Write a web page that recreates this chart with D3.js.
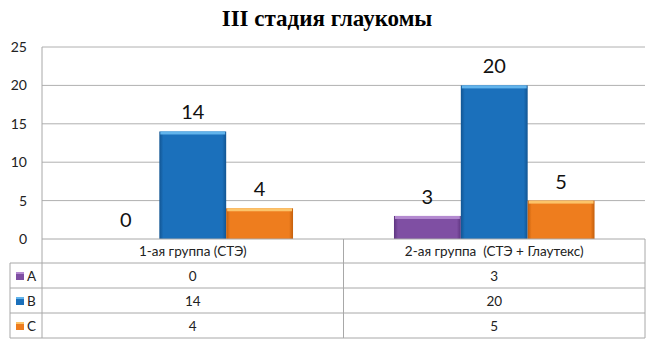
<!DOCTYPE html>
<html>
<head>
<meta charset="utf-8">
<script src="https://cdn.jsdelivr.net/npm/d3@7"></script>
<style>
  body { margin: 0; background: #fff; }
  text { font-family: Lato, "Open Sans", sans-serif; white-space: pre; }
</style>
</head>
<body>
<script>
const categories = ["1-ая группа (СТЭ)", "2-ая группа  (СТЭ + Глаутекс)"];
const seriesNames = ["A", "B", "C"];
const valuesA = [0, 3];
const valuesB = [14, 20];
const valuesC = [4, 5];
const yTicks = [0, 5, 10, 15, 20, 25];

const allSeries = [valuesA, valuesB, valuesC];
const colors = [
  { main: "#7f4fa3", light: "#b48ad0", dark: "#5e3580" },
  { main: "#1b70bb", light: "#62b4ec", dark: "#125592" },
  { main: "#ee7d1e", light: "#fcc46a", dark: "#c45f0c" }
];

const width = 654, height = 345;
const plotLeft = 42, plotRight = 645, plotTop = 47, plotBottom = 239;
const tableLeft = 10, rowH = 25;

const svg = d3.select("body").append("svg")
  .attr("width", width).attr("height", height);

// gradients for the bevelled bar look
const defs = svg.append("defs");
colors.forEach((c, i) => {
  const g = defs.append("linearGradient").attr("id", "grad" + i)
    .attr("x1", 0).attr("x2", 1).attr("y1", 0).attr("y2", 0);
  g.append("stop").attr("offset", "0%").attr("stop-color", c.dark);
  g.append("stop").attr("offset", "6%").attr("stop-color", c.main);
  g.append("stop").attr("offset", "94%").attr("stop-color", c.main);
  g.append("stop").attr("offset", "100%").attr("stop-color", c.dark);
});

svg.append("text")
  .attr("x", 327).attr("y", 26)
  .attr("text-anchor", "middle")
  .style("font-family", "'Liberation Serif', 'Times New Roman', serif")
  .style("font-weight", "bold")
  .style("font-size", "23px")
  .text("III стадия глаукомы");

const y = d3.scaleLinear().domain([0, 25]).range([plotBottom, plotTop]);
const x0 = d3.scaleBand().domain(categories).range([plotLeft, plotRight]);
const x1 = d3.scaleBand().domain(seriesNames)
  .range([0, x0.bandwidth()]).paddingOuter(0.755).paddingInner(0);

// gridlines
svg.append("g").selectAll("line").data(yTicks.filter(d => d > 0)).enter().append("line")
  .attr("x1", plotLeft).attr("x2", plotRight)
  .attr("y1", d => y(d)).attr("y2", d => y(d))
  .attr("stroke", "#b0b0b0").attr("stroke-width", 1);

// y axis labels
svg.append("g").selectAll("text").data(yTicks).enter().append("text")
  .attr("x", 27).attr("y", d => y(d) + 5)
  .attr("text-anchor", "end")
  .style("font-size", "14px").attr("fill", "#222")
  .text(d => d);

// bars
seriesNames.forEach((s, si) => {
  const g = svg.append("g");
  const data = categories.map((c, ci) => ({ c, v: allSeries[si][ci] }));
  g.selectAll("rect.bar").data(data.filter(d => d.v > 0)).enter().append("rect")
    .attr("x", d => x0(d.c) + x1(s))
    .attr("y", d => y(d.v))
    .attr("width", x1.bandwidth())
    .attr("height", d => y(0) - y(d.v))
    .attr("fill", "url(#grad" + si + ")");
  g.selectAll("rect.top").data(data.filter(d => d.v > 0)).enter().append("rect")
    .attr("x", d => x0(d.c) + x1(s) + 1)
    .attr("y", d => y(d.v))
    .attr("width", x1.bandwidth() - 2)
    .attr("height", 3)
    .attr("fill", colors[si].light);
  g.selectAll("text").data(data).enter().append("text")
    .attr("x", d => x0(d.c) + x1(s) + x1.bandwidth() / 2)
    .attr("y", d => y(d.v) - 12)
    .attr("text-anchor", "middle")
    .style("font-size", "20px").attr("fill", "#111")
    .text(d => d.v);
});

// data table
const tableStroke = "#a8a8a8";
const tbl = svg.append("g");
const rows = seriesNames.length;
const tableBottom = plotBottom + 24 + rows * rowH;
// axis line / header top
tbl.append("line").attr("x1", plotLeft).attr("x2", plotRight)
  .attr("y1", plotBottom).attr("y2", plotBottom).attr("stroke", tableStroke);
// plot left border
tbl.append("line").attr("x1", plotLeft).attr("x2", plotLeft)
  .attr("y1", plotTop).attr("y2", tableBottom).attr("stroke", tableStroke);
// right border
tbl.append("line").attr("x1", plotRight).attr("x2", plotRight)
  .attr("y1", plotBottom).attr("y2", tableBottom).attr("stroke", tableStroke);
// column divider
tbl.append("line").attr("x1", x0(categories[1])).attr("x2", x0(categories[1]))
  .attr("y1", plotBottom).attr("y2", tableBottom).attr("stroke", tableStroke);
// row lines
d3.range(rows + 1).forEach(r => {
  const yy = plotBottom + 24 + r * rowH;
  tbl.append("line").attr("x1", tableLeft).attr("x2", plotRight)
    .attr("y1", yy).attr("y2", yy).attr("stroke", tableStroke);
});
tbl.append("line").attr("x1", tableLeft).attr("x2", tableLeft)
  .attr("y1", plotBottom + 24).attr("y2", tableBottom).attr("stroke", tableStroke);

// header labels
tbl.selectAll("text.cat").data(categories).enter().append("text")
  .attr("x", d => x0(d) + x0.bandwidth() / 2)
  .attr("y", plotBottom + 17)
  .attr("text-anchor", "middle")
  .style("font-size", "13.5px").attr("fill", "#222")
  .text(d => d);

// legend + values
seriesNames.forEach((s, si) => {
  const rowTop = plotBottom + 24 + si * rowH;
  tbl.append("rect").attr("x", 16).attr("y", rowTop + 9)
    .attr("width", 8).attr("height", 8)
    .attr("fill", "url(#grad" + si + ")");
  tbl.append("rect").attr("x", 16).attr("y", rowTop + 9)
    .attr("width", 8).attr("height", 2).attr("fill", colors[si].light);
  tbl.append("text").attr("x", 27).attr("y", rowTop + 18)
    .style("font-size", "13.5px").attr("fill", "#222").text(s);
  tbl.selectAll("text.v" + si).data(categories).enter().append("text")
    .attr("x", d => x0(d) + x0.bandwidth() / 2)
    .attr("y", rowTop + 18)
    .attr("text-anchor", "middle")
    .style("font-size", "13.5px").attr("fill", "#222")
    .text((d, ci) => allSeries[si][ci]);
});
</script>
</body>
</html>
